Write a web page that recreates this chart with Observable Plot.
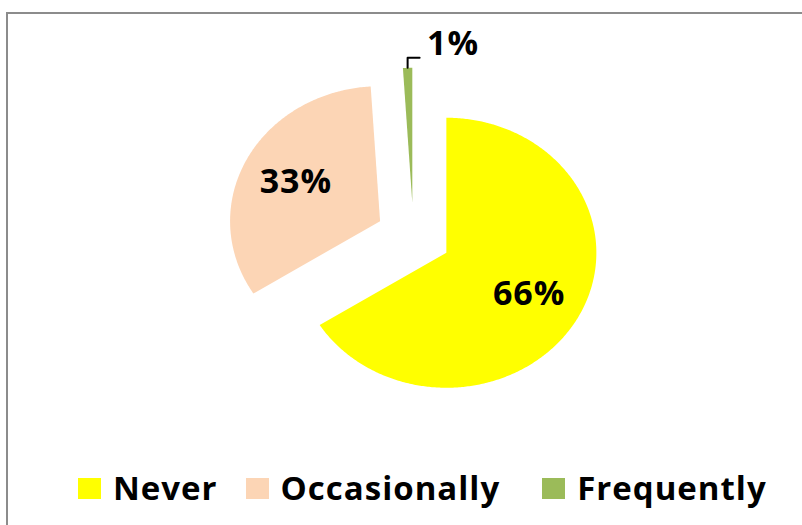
<!DOCTYPE html>
<html><head><meta charset="utf-8">
<script src="https://cdn.jsdelivr.net/npm/d3@7"></script>
<script src="https://cdn.jsdelivr.net/npm/@observablehq/plot@0.6"></script>
<style>
body{margin:0;background:#fff;font-family:"Open Sans",sans-serif;}
#wrap{position:relative;width:802px;height:525px;overflow:hidden;background:#fff;}
#frame{position:absolute;left:6px;top:12px;width:830px;height:540px;border:2px solid #8c8c8c;box-sizing:border-box;}
#chart{position:absolute;left:0;top:0;}
#legend{position:absolute;left:78px;top:466px;display:flex;align-items:center;font-weight:700;font-size:33px;color:#000;line-height:44px;letter-spacing:1px;}
.item{display:flex;align-items:center;}
.item:nth-child(1){margin-right:28px;}
.item:nth-child(2){margin-right:42px;}
.sw{width:23px;height:21px;margin-right:12px;}
</style></head><body>
<div id="wrap"><div id="frame"></div><div id="chart"></div><div id="legend"></div></div>
<script>
const categories = ["Never", "Occasionally", "Frequently"];
const values = [66, 33, 1];
const labels = ["66%", "33%", "1%"];
const colors = ["#FFFF00", "#FCD5B5", "#9BBB59"];

const W = 802, H = 525;
const cx = 413, cy = 236, rx = 150, ry = 135;
const explode = 0.25;
const labelR = 0.63;

const pie = d3.pie().sort(null).startAngle(0).endAngle(2 * Math.PI)(values);

const slices = pie.map((p, i) => {
  const mid = (p.startAngle + p.endAngle) / 2;
  const ox = explode * Math.sin(mid), oy = explode * Math.cos(mid);
  const pts = [{x: ox, y: oy}];
  const n = Math.max(2, Math.ceil((p.endAngle - p.startAngle) / 0.01));
  for (let k = 0; k <= n; k++) {
    const a = p.startAngle + (p.endAngle - p.startAngle) * k / n;
    pts.push({x: ox + Math.sin(a), y: oy + Math.cos(a)});
  }
  pts.push({x: ox, y: oy});
  return {i, mid, ox, oy, pts, color: colors[i], label: labels[i], value: values[i]};
});

const inner = slices.filter(s => s.value >= 5).map(s => ({
  x: s.ox + labelR * Math.sin(s.mid),
  y: s.oy + labelR * Math.cos(s.mid),
  label: s.label
}));

const small = slices.filter(s => s.value < 5);
const leaders = [];
const outer = [];
small.forEach(s => {
  const p0 = {x: s.ox + Math.sin(s.mid), y: s.oy + Math.cos(s.mid), k: s.i};
  const p1 = {x: p0.x, y: p0.y + 0.074, k: s.i};
  const p2 = {x: p0.x + 0.08, y: p1.y, k: s.i};
  leaders.push(p0, p1, p2);
  outer.push({x: p2.x + 0.05, y: p2.y + 0.1, label: s.label});
});

const chart = Plot.plot({
  width: W, height: H,
  margin: 0,
  style: {fontFamily: "'Open Sans', sans-serif", background: "transparent"},
  x: {domain: [-cx / rx, (W - cx) / rx], range: [0, W], axis: null},
  y: {domain: [-(H - cy) / ry, cy / ry], range: [H, 0], axis: null},
  marks: [
    ...slices.map(s => Plot.line(s.pts, {x: "x", y: "y", fill: s.color, stroke: "none", curve: "linear"})),
    Plot.line(leaders, {x: "x", y: "y", z: "k", stroke: "#000", strokeWidth: 2, curve: "linear"}),
    Plot.text(inner, {x: "x", y: "y", text: "label", fontSize: 34, fontWeight: 700, fill: "#000", letterSpacing: 1}),
    Plot.text(outer, {x: "x", y: "y", text: "label", fontSize: 34, fontWeight: 700, fill: "#000", textAnchor: "start"})
  ]
});
chart.querySelectorAll("text").forEach(t => t.style.letterSpacing = "1px");
document.getElementById("chart").appendChild(chart);

const legend = document.getElementById("legend");
categories.forEach((c, i) => {
  const it = document.createElement("div");
  it.className = "item";
  const sw = document.createElement("div");
  sw.className = "sw";
  sw.style.background = colors[i];
  const t = document.createElement("span");
  t.textContent = c;
  it.appendChild(sw); it.appendChild(t);
  legend.appendChild(it);
});
</script>
</body></html>
